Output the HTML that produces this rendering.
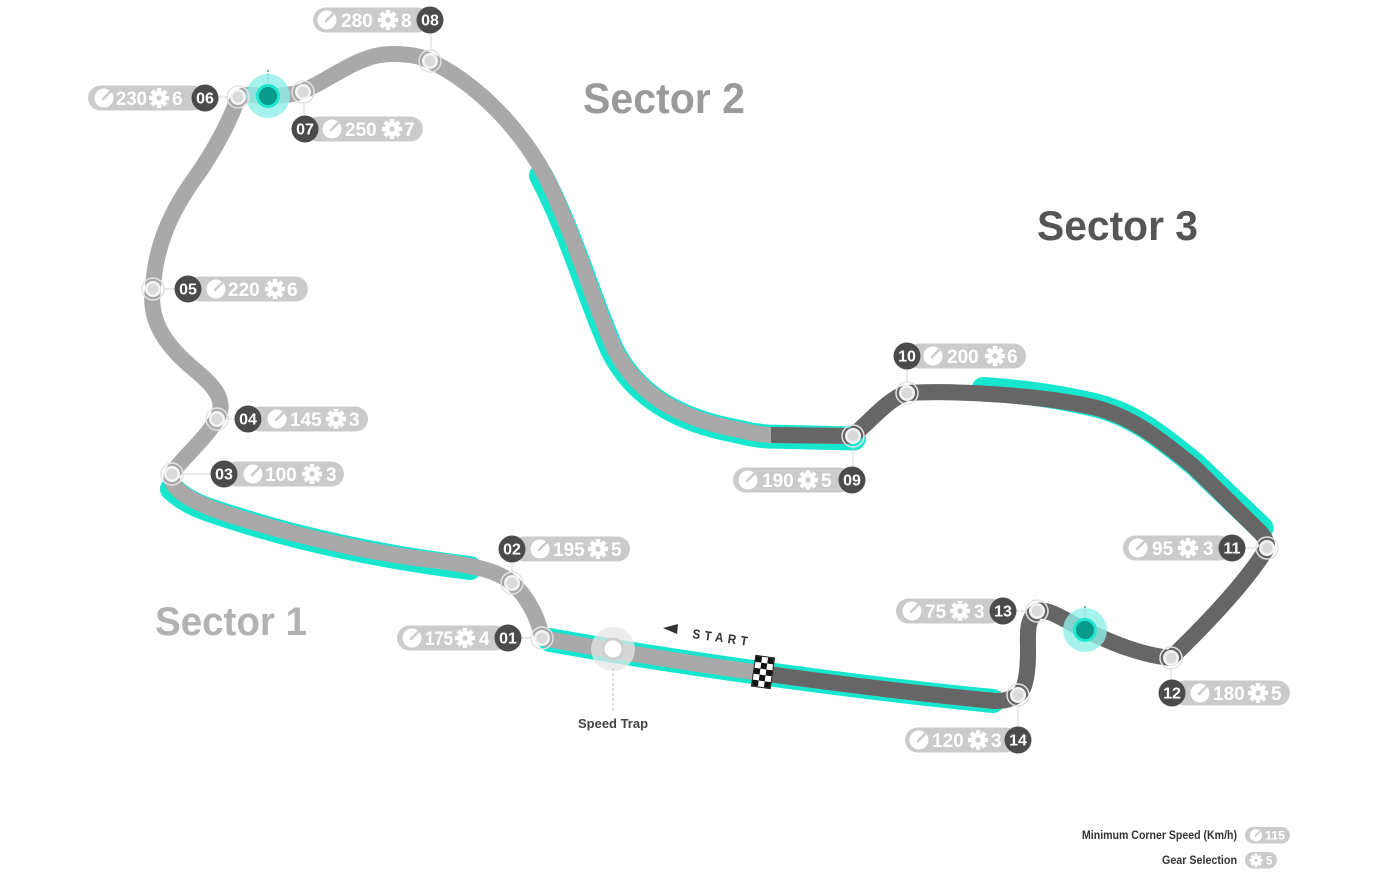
<!DOCTYPE html>
<html>
<head>
<meta charset="utf-8">
<style>
html,body{margin:0;padding:0;background:#fff;}
svg{display:block;}
.v{font-family:"Liberation Sans",Arial,sans-serif;font-weight:bold;font-size:19px;fill:#fff;}
.n{font-family:"Liberation Sans",Arial,sans-serif;font-weight:bold;font-size:16px;fill:#fff;text-anchor:middle;}
.t{font-family:"Liberation Sans",Arial,sans-serif;font-weight:bold;}
</style>
</head>
<body>
<svg width="1390" height="885" viewBox="0 0 1390 885" xmlns="http://www.w3.org/2000/svg" xmlns:xlink="http://www.w3.org/1999/xlink">
<defs>
  <g id="gauge">
    <circle r="9.5" fill="#fff"/>
    <line x1="-1" y1="1" x2="7" y2="-7" stroke="#cbcbcb" stroke-width="2.4" stroke-linecap="round"/>
  </g>
  <g id="gear">
    <rect x="-2.2" y="-10" width="4.4" height="20" fill="#fff"/>
    <rect x="-2.2" y="-10" width="4.4" height="20" fill="#fff" transform="rotate(45)"/>
    <rect x="-2.2" y="-10" width="4.4" height="20" fill="#fff" transform="rotate(90)"/>
    <rect x="-2.2" y="-10" width="4.4" height="20" fill="#fff" transform="rotate(135)"/>
    <circle r="7" fill="#fff"/>
    <circle r="2.6" fill="#cbcbcb"/>
  </g>
  <g id="mk">
    <circle r="11" fill="none" stroke="#e2e2e2" stroke-width="1.5"/>
    <circle r="8" fill="#f4f4f4"/>
    <circle r="5.5" fill="#dadada"/>
  </g>
  <clipPath id="s3">
    <polygon points="771,0 1390,0 1390,885 759,885 768,620 771,560"/>
  </clipPath>
</defs>

<!-- cyan highlights -->
<g fill="none" stroke="#17e6cf" stroke-width="24" stroke-linecap="round">
  <path transform="translate(0,2)" d="M 172,487 C 190,503 205,507 240,518 C 300,537 380,555 470,566"/>
  <path d="M 550,640 C 700,667 880,690 993,701"/>
  <path transform="translate(-2,1.5)" d="M 543,174 C 575,235 592,300 615,350 C 640,398 685,420 740,430 Q 755,434 770,435 L 856,437"/>
  <path transform="translate(1.5,-2)" d="M 982,391 C 1040,395 1070,402 1093,407 C 1130,416 1155,435 1193,466 L 1260,530"/>
</g>

<!-- track -->
<path id="trk" fill="none" stroke="#a9a9a9" stroke-width="16" stroke-linejoin="round" stroke-linecap="round"
 d="M 172,474 C 180,460 205,440 217,419 C 228,400 212,384 195,370 C 168,348 148,322 153,289
    C 155,245 172,210 195,178 C 215,150 230,120 236,103 Q 239,95 248,95 L 268,96
    C 285,96 295,94 303,91 C 330,80 360,53 393,54 C 412,54 422,57 430,61
    C 470,80 515,120 545,175 C 575,235 592,300 615,350 C 640,398 685,420 740,430 Q 755,434 770,435 L 852,436
    C 866,426 888,398 907,393 C 950,390 1040,395 1093,407 C 1130,416 1155,435 1193,466 L 1258,530 Q 1268,540 1267,548
    C 1245,585 1195,635 1171,658 C 1140,655 1110,642 1085,630 C 1065,621 1050,608 1037,611
    C 1026,620 1028,635 1028,650 C 1028,675 1025,690 1018,695 C 1010,700 1003,701 995,701
    C 880,690 700,667 548,639 Q 544,639 542,637 C 538,618 528,597 512,583
    C 498,571 480,567 440,561 C 380,555 300,537 240,518 C 190,503 168,488 172,474 Z"/>
<g clip-path="url(#s3)">
<path fill="none" stroke="#666666" stroke-width="16" stroke-linejoin="round"
 d="M 770,435 L 852,436
    C 866,426 888,398 907,393 C 950,390 1040,395 1093,407 C 1130,416 1155,435 1193,466 L 1258,530 Q 1268,540 1267,548
    C 1245,585 1195,635 1171,658 C 1140,655 1110,642 1085,630 C 1065,621 1050,608 1037,611
    C 1026,620 1028,635 1028,650 C 1028,675 1025,690 1018,695 C 1010,700 1003,701 995,701
    C 880,690 700,667 548,639"/>
</g>

<!-- checkered flag -->
<g transform="translate(763,672) rotate(8)">
  <rect x="-9.5" y="-15.5" width="19" height="31" fill="#fff" stroke="#222" stroke-width="1"/>
  <rect x="-9" y="-15" width="6" height="6" fill="#111"/>
  <rect x="3" y="-15" width="6" height="6" fill="#111"/>
  <rect x="-3" y="-9" width="6" height="6" fill="#111"/>
  <rect x="-9" y="-3" width="6" height="6" fill="#111"/>
  <rect x="3" y="-3" width="6" height="6" fill="#111"/>
  <rect x="-3" y="3" width="6" height="6" fill="#111"/>
  <rect x="-9" y="9" width="6" height="6" fill="#111"/>
  <rect x="3" y="9" width="6" height="6" fill="#111"/>
</g>

<!-- speed trap -->
<circle cx="613" cy="649" r="22" fill="#e6e6e6" opacity="0.75"/>
<circle cx="613" cy="649" r="10" fill="#fff" stroke="#d0d0d0" stroke-width="3"/>
<line x1="613" y1="668" x2="613" y2="712" stroke="#bbb" stroke-width="1" stroke-dasharray="3,2"/>
<text x="578" y="728" class="t" font-size="13" fill="#444" textLength="70" lengthAdjust="spacingAndGlyphs">Speed Trap</text>

<!-- START -->
<polygon points="663,628 678,624 677,634" fill="#333"/>
<text x="692" y="638" class="t" font-size="13" fill="#333" letter-spacing="5" textLength="60" lengthAdjust="spacingAndGlyphs" transform="rotate(8 692 638)">START</text>

<!-- teal markers -->
<g>
  <line x1="268" y1="70" x2="268" y2="85" stroke="#0a7d72" stroke-width="1.2" stroke-dasharray="2,1.5"/>
  <circle cx="268" cy="96" r="22" fill="#8ff0e7" opacity="0.8"/>
  <circle cx="268" cy="96" r="12" fill="#1ee6d0"/>
  <circle cx="268" cy="96" r="9" fill="#0a9a8c"/>
  <line x1="1085" y1="606" x2="1085" y2="619" stroke="#0a7d72" stroke-width="1.2" stroke-dasharray="2,1.5"/>
  <circle cx="1085" cy="630" r="22" fill="#8ff0e7" opacity="0.8"/>
  <circle cx="1085" cy="630" r="12" fill="#1ee6d0"/>
  <circle cx="1085" cy="630" r="9" fill="#0a9a8c"/>
</g>

<!-- connectors -->
<g stroke="#d6d6d6" stroke-width="1">
  <line x1="431" y1="33" x2="431" y2="51"/>
  <line x1="218" y1="97" x2="227" y2="97"/>
  <line x1="304" y1="102" x2="304" y2="115"/>
  <line x1="163" y1="289" x2="175" y2="289"/>
  <line x1="228" y1="419" x2="235" y2="419"/>
  <line x1="183" y1="474" x2="211" y2="474"/>
  <line x1="512" y1="562" x2="512" y2="573"/>
  <line x1="521" y1="638" x2="531" y2="638"/>
  <line x1="853" y1="447" x2="853" y2="467"/>
  <line x1="907" y1="369" x2="907" y2="382"/>
  <line x1="1245" y1="548" x2="1256" y2="548"/>
  <line x1="1016" y1="611" x2="1026" y2="611"/>
  <line x1="1171" y1="669" x2="1171" y2="680"/>
  <line x1="1018" y1="706" x2="1018" y2="727"/>
</g>

<!-- turn markers -->
<use href="#mk" xlink:href="#mk" x="430" y="61"/>
<use href="#mk" xlink:href="#mk" x="238" y="97"/>
<use href="#mk" xlink:href="#mk" x="303" y="92"/>
<use href="#mk" xlink:href="#mk" x="153" y="289"/>
<use href="#mk" xlink:href="#mk" x="217" y="419"/>
<use href="#mk" xlink:href="#mk" x="172" y="474"/>
<use href="#mk" xlink:href="#mk" x="512" y="583"/>
<use href="#mk" xlink:href="#mk" x="542" y="638"/>
<use href="#mk" xlink:href="#mk" x="853" y="436"/>
<use href="#mk" xlink:href="#mk" x="907" y="393"/>
<use href="#mk" xlink:href="#mk" x="1267" y="548"/>
<use href="#mk" xlink:href="#mk" x="1171" y="658"/>
<use href="#mk" xlink:href="#mk" x="1037" y="611"/>
<use href="#mk" xlink:href="#mk" x="1018" y="695"/>

<!-- labels: number on right -->
<!-- 08 -->
<rect x="313" y="7.5" width="117" height="25" rx="12.5" fill="#cbcbcb"/>
<use href="#gauge" xlink:href="#gauge" x="327" y="20"/>
<text x="341" y="26.8" class="v">280</text>
<use href="#gear" xlink:href="#gear" x="388" y="20"/>
<text x="401" y="26.8" class="v">8</text>
<circle cx="430" cy="20" r="13.5" fill="#4b4b4b"/>
<text x="430" y="25.6" class="n">08</text>
<!-- 06 -->
<rect x="88" y="85.5" width="117" height="25" rx="12.5" fill="#cbcbcb"/>
<use href="#gauge" xlink:href="#gauge" x="104" y="98"/>
<text x="116" y="104.8" class="v" textLength="31" lengthAdjust="spacingAndGlyphs">230</text>
<use href="#gear" xlink:href="#gear" x="159" y="98"/>
<text x="172" y="104.8" class="v">6</text>
<circle cx="205" cy="98" r="13.5" fill="#4b4b4b"/>
<text x="205" y="103.6" class="n">06</text>
<!-- 01 -->
<rect x="397" y="625.5" width="111" height="25" rx="12.5" fill="#cbcbcb"/>
<use href="#gauge" xlink:href="#gauge" x="412" y="638"/>
<text x="425" y="644.8" class="v" textLength="28" lengthAdjust="spacingAndGlyphs">175</text>
<use href="#gear" xlink:href="#gear" x="465" y="638"/>
<text x="479" y="644.8" class="v">4</text>
<circle cx="508" cy="638" r="13.5" fill="#4b4b4b"/>
<text x="508" y="643.6" class="n">01</text>
<!-- 09 -->
<rect x="733" y="467.5" width="119" height="25" rx="12.5" fill="#cbcbcb"/>
<use href="#gauge" xlink:href="#gauge" x="748" y="480"/>
<text x="762" y="486.8" class="v">190</text>
<use href="#gear" xlink:href="#gear" x="808" y="480"/>
<text x="821" y="486.8" class="v">5</text>
<circle cx="852" cy="480" r="13.5" fill="#4b4b4b"/>
<text x="852" y="485.6" class="n">09</text>
<!-- 11 -->
<rect x="1123" y="535.5" width="109" height="25" rx="12.5" fill="#cbcbcb"/>
<use href="#gauge" xlink:href="#gauge" x="1138" y="548"/>
<text x="1152" y="554.8" class="v">95</text>
<use href="#gear" xlink:href="#gear" x="1188" y="548"/>
<text x="1203" y="554.8" class="v">3</text>
<circle cx="1232" cy="548" r="13.5" fill="#4b4b4b"/>
<text x="1232" y="553.6" class="n">11</text>
<!-- 13 -->
<rect x="896" y="598.5" width="107" height="25" rx="12.5" fill="#cbcbcb"/>
<use href="#gauge" xlink:href="#gauge" x="912" y="611"/>
<text x="925" y="617.8" class="v">75</text>
<use href="#gear" xlink:href="#gear" x="960" y="611"/>
<text x="974" y="617.8" class="v">3</text>
<circle cx="1003" cy="611" r="13.5" fill="#4b4b4b"/>
<text x="1003" y="616.6" class="n">13</text>
<!-- 14 -->
<rect x="905" y="727.5" width="113" height="25" rx="12.5" fill="#cbcbcb"/>
<use href="#gauge" xlink:href="#gauge" x="919" y="740"/>
<text x="932" y="746.8" class="v">120</text>
<use href="#gear" xlink:href="#gear" x="978" y="740"/>
<text x="991" y="746.8" class="v">3</text>
<circle cx="1018" cy="740" r="13.5" fill="#4b4b4b"/>
<text x="1018" y="745.6" class="n">14</text>

<!-- labels: number on left -->
<!-- 07 -->
<rect x="305" y="116.5" width="118" height="25" rx="12.5" fill="#cbcbcb"/>
<use href="#gauge" xlink:href="#gauge" x="332" y="129"/>
<text x="345" y="135.8" class="v">250</text>
<use href="#gear" xlink:href="#gear" x="392" y="129"/>
<text x="404" y="135.8" class="v">7</text>
<circle cx="305" cy="129" r="13.5" fill="#4b4b4b"/>
<text x="305" y="134.6" class="n">07</text>
<!-- 05 -->
<rect x="188" y="276.5" width="120" height="25" rx="12.5" fill="#cbcbcb"/>
<use href="#gauge" xlink:href="#gauge" x="216" y="289"/>
<text x="228" y="295.8" class="v">220</text>
<use href="#gear" xlink:href="#gear" x="275" y="289"/>
<text x="287" y="295.8" class="v">6</text>
<circle cx="188" cy="289" r="13.5" fill="#4b4b4b"/>
<text x="188" y="294.6" class="n">05</text>
<!-- 04 -->
<rect x="248" y="406.5" width="120" height="25" rx="12.5" fill="#cbcbcb"/>
<use href="#gauge" xlink:href="#gauge" x="277" y="419"/>
<text x="290" y="425.8" class="v">145</text>
<use href="#gear" xlink:href="#gear" x="336" y="419"/>
<text x="349" y="425.8" class="v">3</text>
<circle cx="248" cy="419" r="13.5" fill="#4b4b4b"/>
<text x="248" y="424.6" class="n">04</text>
<!-- 03 -->
<rect x="224" y="461.5" width="120" height="25" rx="12.5" fill="#cbcbcb"/>
<use href="#gauge" xlink:href="#gauge" x="253" y="474"/>
<text x="265" y="480.8" class="v">100</text>
<use href="#gear" xlink:href="#gear" x="312" y="474"/>
<text x="326" y="480.8" class="v">3</text>
<circle cx="224" cy="474" r="13.5" fill="#4b4b4b"/>
<text x="224" y="479.6" class="n">03</text>
<!-- 02 -->
<rect x="512" y="536.5" width="118" height="25" rx="12.5" fill="#cbcbcb"/>
<use href="#gauge" xlink:href="#gauge" x="540" y="549"/>
<text x="553" y="555.8" class="v">195</text>
<use href="#gear" xlink:href="#gear" x="598" y="549"/>
<text x="611" y="555.8" class="v">5</text>
<circle cx="512" cy="549" r="13.5" fill="#4b4b4b"/>
<text x="512" y="554.6" class="n">02</text>
<!-- 10 -->
<rect x="907" y="343.5" width="119" height="25" rx="12.5" fill="#cbcbcb"/>
<use href="#gauge" xlink:href="#gauge" x="933" y="356"/>
<text x="947" y="362.8" class="v">200</text>
<use href="#gear" xlink:href="#gear" x="995" y="356"/>
<text x="1007" y="362.8" class="v">6</text>
<circle cx="907" cy="356" r="13.5" fill="#4b4b4b"/>
<text x="907" y="361.6" class="n">10</text>
<!-- 12 -->
<rect x="1172" y="680.5" width="118" height="25" rx="12.5" fill="#cbcbcb"/>
<use href="#gauge" xlink:href="#gauge" x="1200" y="693"/>
<text x="1213" y="699.8" class="v">180</text>
<use href="#gear" xlink:href="#gear" x="1258" y="693"/>
<text x="1271" y="699.8" class="v">5</text>
<circle cx="1172" cy="693" r="13.5" fill="#4b4b4b"/>
<text x="1172" y="698.6" class="n">12</text>

<!-- sector titles -->
<text x="583" y="113" class="t" font-size="43" fill="#9a9a9a" textLength="162" lengthAdjust="spacingAndGlyphs">Sector 2</text>
<text x="1037" y="240" class="t" font-size="42" fill="#555555" textLength="161" lengthAdjust="spacingAndGlyphs">Sector 3</text>
<text x="155" y="635" class="t" font-size="40" fill="#b2b2b2" textLength="152" lengthAdjust="spacingAndGlyphs">Sector 1</text>

<!-- legend -->
<text x="1082" y="839" class="t" font-size="11.5" fill="#333" textLength="155" lengthAdjust="spacingAndGlyphs">Minimum Corner Speed (Km/h)</text>
<rect x="1245" y="827" width="45" height="16.5" rx="8.25" fill="#cbcbcb"/>
<g transform="translate(1256,835.3) scale(0.65)"><use href="#gauge" xlink:href="#gauge"/></g>
<text x="1265" y="839.5" class="t" font-size="11.5" fill="#fff" textLength="20" lengthAdjust="spacingAndGlyphs">115</text>
<text x="1162" y="864" class="t" font-size="11.5" fill="#333" textLength="75" lengthAdjust="spacingAndGlyphs">Gear Selection</text>
<rect x="1245" y="852" width="32" height="16.5" rx="8.25" fill="#cbcbcb"/>
<g transform="translate(1256,860.3) scale(0.65)"><use href="#gear" xlink:href="#gear"/></g>
<text x="1266" y="864.5" class="t" font-size="11.5" fill="#fff">5</text>
</svg>
</body>
</html>
